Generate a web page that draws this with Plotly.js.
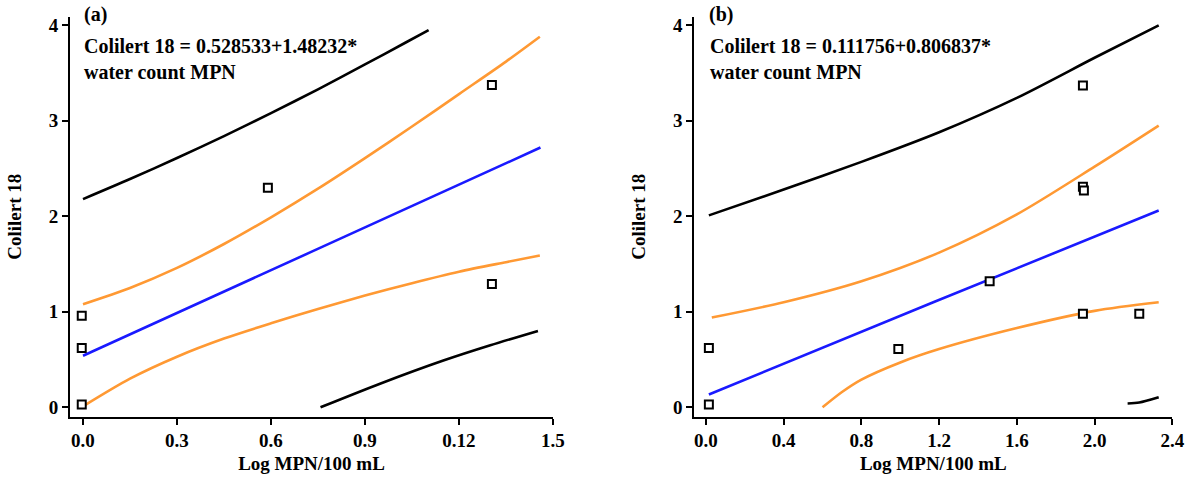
<!DOCTYPE html>
<html>
<head>
<meta charset="utf-8">
<script src="https://cdn.plot.ly/plotly-3.0.1.min.js"></script>
<style>html,body{margin:0;padding:0;background:#fff;}#chart{width:1198px;height:487px;}</style>
</head>
<body>
<div id="chart"></div>
<script>
// ---------- Panel (a) ----------
const aTickVals = [0, 0.3, 0.6, 0.9, 1.2, 1.5];
const aTickText = ['0.0', '0.3', '0.6', '0.9', '0.12', '1.5'];
const aPointsX = [-0.004, -0.004, -0.004, 0.59, 1.305, 1.305];
const aPointsY = [0.96, 0.62, 0.03, 2.30, 3.375, 1.29];
const aFitX = [0, 0.73, 1.46];
const aFitY = [0.54, 1.63, 2.72];
const aUpperCIX = [0, 0.15, 0.3, 0.45, 0.6, 0.75, 0.9, 1.05, 1.2, 1.35, 1.458];
const aUpperCIY = [1.08, 1.25, 1.46, 1.71, 1.99, 2.29, 2.61, 2.94, 3.28, 3.62, 3.88];
const aLowerCIX = [0, 0.15, 0.3, 0.45, 0.6, 0.75, 0.9, 1.05, 1.2, 1.35, 1.458];
const aLowerCIY = [0.01, 0.30, 0.53, 0.72, 0.88, 1.03, 1.17, 1.30, 1.42, 1.52, 1.59];
const aUpperPIX = [0, 0.15, 0.3, 0.45, 0.6, 0.75, 0.9, 1.03, 1.103];
const aUpperPIY = [2.18, 2.39, 2.61, 2.84, 3.08, 3.33, 3.59, 3.82, 3.95];
const aLowerPIX = [0.758, 0.95, 1.15, 1.3, 1.452];
const aLowerPIY = [0.0, 0.25, 0.49, 0.65, 0.80];

// ---------- Panel (b) ----------
const bTickVals = [0, 0.4, 0.8, 1.2, 1.6, 2.0, 2.4];
const bTickText = ['0.0', '0.4', '0.8', '1.2', '1.6', '2.0', '2.4'];
const bPointsX = [0.015, 0.015, 0.99, 1.46, 1.94, 1.94, 1.945, 1.94, 2.23];
const bPointsY = [0.62, 0.03, 0.61, 1.32, 3.37, 2.31, 2.27, 0.98, 0.98];
const bFitX = [0.015, 1.17, 2.33];
const bFitY = [0.135, 1.10, 2.06];
const bUpperCIX = [0.03, 0.4, 0.8, 1.2, 1.6, 2.0, 2.33];
const bUpperCIY = [0.94, 1.10, 1.32, 1.62, 2.02, 2.52, 2.95];
const bLowerCIX = [0.6, 0.7, 0.8, 1.0, 1.2, 1.6, 2.0, 2.33];
const bLowerCIY = [0.0, 0.16, 0.29, 0.47, 0.61, 0.83, 1.01, 1.10];
const bUpperPIX = [0.015, 0.4, 0.8, 1.2, 1.6, 2.0, 2.33];
const bUpperPIY = [2.01, 2.28, 2.57, 2.88, 3.24, 3.66, 4.0];
const bLowerPIX = [2.17, 2.23, 2.33];
const bLowerPIY = [0.04, 0.05, 0.105];

const yTickVals = [0, 1, 2, 3, 4];

const BLUE = '#1a1aff', ORANGE = '#ff9933', BLACK = '#000000';
const FONT = 'Liberation Serif, Times New Roman, serif';

function line(x, y, color, xa, ya) {
  return {x: x, y: y, type: 'scatter', mode: 'lines', xaxis: xa, yaxis: ya,
          line: {color: color, width: 2.6, shape: 'spline', smoothing: 0.8},
          hoverinfo: 'skip', showlegend: false};
}
function pts(x, y, xa, ya) {
  return {x: x, y: y, type: 'scatter', mode: 'markers', xaxis: xa, yaxis: ya,
          marker: {symbol: 'square', size: 8, color: '#ffffff', line: {color: BLACK, width: 2}},
          showlegend: false};
}

const data = [
  line(aUpperPIX, aUpperPIY, BLACK, 'x', 'y'),
  line(aLowerPIX, aLowerPIY, BLACK, 'x', 'y'),
  line(aUpperCIX, aUpperCIY, ORANGE, 'x', 'y'),
  line(aLowerCIX, aLowerCIY, ORANGE, 'x', 'y'),
  line(aFitX, aFitY, BLUE, 'x', 'y'),
  pts(aPointsX, aPointsY, 'x', 'y'),
  line(bUpperPIX, bUpperPIY, BLACK, 'x2', 'y2'),
  line(bLowerPIX, bLowerPIY, BLACK, 'x2', 'y2'),
  line(bUpperCIX, bUpperCIY, ORANGE, 'x2', 'y2'),
  line(bLowerCIX, bLowerCIY, ORANGE, 'x2', 'y2'),
  line(bFitX, bFitY, BLUE, 'x2', 'y2'),
  pts(bPointsX, bPointsY, 'x2', 'y2')
];

const tickFont = {family: FONT, size: 19, color: BLACK, weight: 'bold'};
const titleFont = {family: FONT, size: 19, color: BLACK, weight: 'bold'};

function xAxis(domain, range, vals, text, anchor) {
  return {domain: domain, range: range, anchor: anchor, tickmode: 'array', tickvals: vals, ticktext: text,
          showline: true, linewidth: 2, linecolor: BLACK, ticks: 'outside', ticklen: 6, tickwidth: 2,
          tickcolor: BLACK, showgrid: false, zeroline: false, tickfont: tickFont, automargin: false,
          title: {text: 'Log MPN/100 mL', font: titleFont, standoff: 6}};
}
function yAxis(anchor) {
  return {domain: [0.1444, 0.9657], range: [-0.098, 4.09], anchor: anchor, tickmode: 'array',
          tickvals: yTickVals, ticktext: yTickVals.map(String),
          showline: true, linewidth: 2, linecolor: BLACK, ticks: 'outside', ticklen: 6, tickwidth: 2,
          tickcolor: BLACK, showgrid: false, zeroline: false, tickfont: tickFont, automargin: false,
          title: {text: 'Colilert 18', font: titleFont, standoff: 22}};
}

const annFont = {family: FONT, size: 20, color: BLACK, weight: 'bold'};
const layout = {
  width: 1198, height: 487,
  margin: {l: 0, r: 0, t: 0, b: 0},
  paper_bgcolor: '#ffffff', plot_bgcolor: '#ffffff',
  showlegend: false,
  xaxis: xAxis([0.05843, 0.4616], [-0.0415, 1.5], aTickVals, aTickText, 'y'),
  yaxis: yAxis('x'),
  xaxis2: xAxis([0.57955, 0.97855], [-0.060, 2.4], bTickVals, bTickText, 'y2'),
  yaxis2: yAxis('x2'),
  annotations: [
    {text: '(a)', xref: 'paper', yref: 'paper', x: 82 / 1198, y: 1 - 15 / 487, xanchor: 'left', yanchor: 'middle', showarrow: false, font: annFont},
    {text: 'Colilert 18 = 0.528533+1.48232*<br>water count MPN', xref: 'paper', yref: 'paper', x: 82 / 1198, y: 1 - 33 / 487, xanchor: 'left', yanchor: 'top', align: 'left', showarrow: false, font: annFont},
    {text: '(b)', xref: 'paper', yref: 'paper', x: 707 / 1198, y: 1 - 15 / 487, xanchor: 'left', yanchor: 'middle', showarrow: false, font: annFont},
    {text: 'Colilert 18 = 0.111756+0.806837*<br>water count MPN', xref: 'paper', yref: 'paper', x: 708 / 1198, y: 1 - 33 / 487, xanchor: 'left', yanchor: 'top', align: 'left', showarrow: false, font: annFont}
  ]
};

Plotly.newPlot('chart', data, layout, {staticPlot: true, displayModeBar: false});
</script>
</body>
</html>
